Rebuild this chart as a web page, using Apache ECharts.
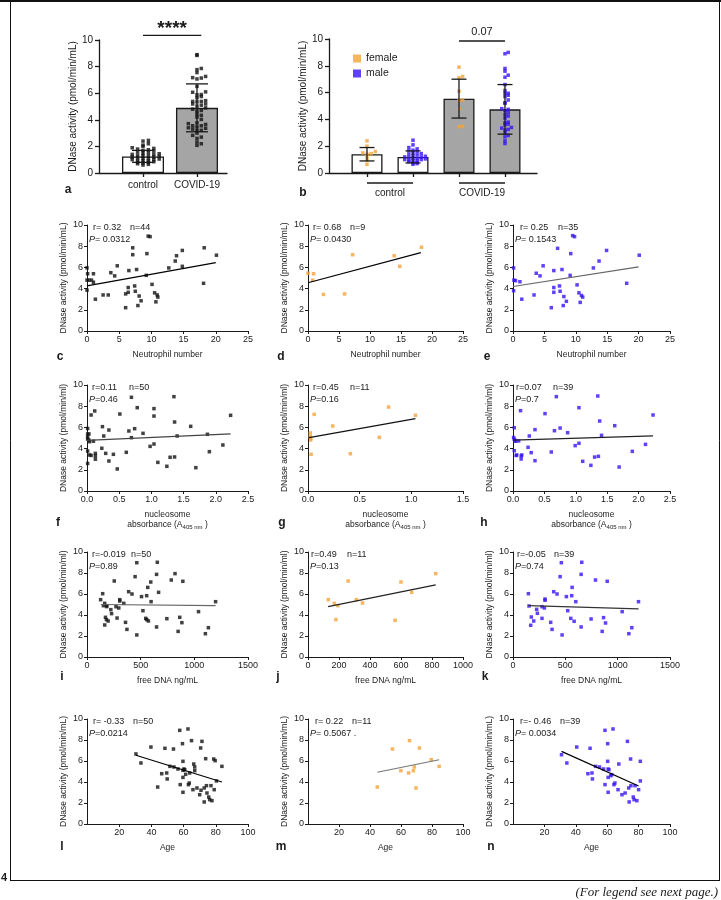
<!DOCTYPE html>
<html><head><meta charset="utf-8">
<script src="https://cdn.jsdelivr.net/npm/echarts@6/dist/echarts.min.js"></script>
<style>html,body{margin:0;padding:0;background:#fff}#c{width:721px;height:900px}</style>
</head><body><div id="c"></div><script>
// ---------------- DATA ----------------
// panel a
const groupsA = ['control', 'COVID-19'];
const barMeanA = [1.25, 4.9];
const barSdA = [0.45, 1.8];
const controlDotsA = [2.45,2.4,2.2,2.1,2.0,1.9,1.85,1.8,1.75,1.7,1.65,1.6,1.55,1.5,1.45,1.4,1.4,1.35,1.3,1.3,1.25,1.2,1.2,1.15,1.1,1.1,1.05,1.0,1.0,0.95,0.9,0.9,0.85,0.8,0.8,0.75,0.7,0.65,0.6];
const covidDotsA = [7.17,7.55,5.9,5.38,5.38,4.9,4.8,4.65,4.7,3.77,3.4,3.36,2.6,3.55,3.3,3.0,6.07,5.19,4.03,3.55,5.75,2.83,3.46,2.08,7.26,3.65,5.66,8.84,5.03,5.88,7.86,5.44,4.21,7.07,7.77,4.43,2.7,2.33,3.18,8.9,3.21,6.51,5.19,6.1,2.2,5.35,3.71,4.34,7.14,5.1];
const sigLabelA = '****';
// panel b
const groupsB = ['control', 'COVID-19'];
const sexes = ['female', 'male'];
const barMeanB = [1.4, 1.2, 5.55, 4.75];
const barSdB = [0.5, 0.45, 1.45, 1.85];
const femaleCtrlB = [2.4,2.0,1.6,1.5,1.45,1.4,1.2,0.95,0.65];
const maleCtrlB = [2.45,2.1,1.9,1.8,1.7,1.65,1.6,1.5,1.45,1.4,1.35,1.3,1.25,1.2,1.2,1.15,1.1,1.1,1.05,1.0,1.0,0.95,0.9,0.9,0.85,0.8,0.75,0.7,0.65];
const femaleCovidB = [5.45,5.4,4.8,3.45,3.5,7.2,7.1,6.1,7.9];
const maleCovidB = [5.95,4.8,4.75,4.65,3.8,3.0,3.4,5.45,5.2,6.15,2.2,3.65,4.1,5.7,7.8,4.25,3.75,5.8,2.4,3.25,2.8,5.25,7.3,9.0,8.9,4.35,3.6,2.7,3.35,3.2,5.95,6.6,7.6,4.5,7.15];
const sigLabelB = '0.07';

// scatter panels [x, DNase activity]
const neutroAll = [[0,5.96],[0.1,5.4],[0,4.8],[0.3,4.8],[0.7,4.8],[1,5.4],[1,4.6],[0,3.85],[1.3,3.0],[2.5,3.4],[3.3,3.4],[3.7,5.5],[4.3,5.2],[4.7,6.15],[6,2.2],[6,3.5],[6.4,4.1],[6.4,3.65],[6.5,5.7],[7.1,7.85],[7.1,7.2],[7.4,4.25],[7.5,3.75],[7.7,5.8],[7.9,2.4],[8.1,3.3],[8.4,2.85],[9.2,5.25],[9.3,7.3],[9.5,8.95],[9.8,8.9],[10.1,4.4],[10.5,3.6],[10.7,2.75],[10.9,3.4],[11,3.2],[12.7,5.95],[13.7,6.6],[13.9,7.1],[14.8,6.1],[14.8,7.6],[18.1,4.5],[18.2,7.85],[20.1,7.15]];
const neutroFemale = [[0,5.45],[0.9,5.4],[0.75,4.8],[2.5,3.45],[5.9,3.5],[7.2,7.2],[13.9,7.1],[14.8,6.1],[18.3,7.9]];
const neutroMale = [[0.1,5.95],[0.15,4.8],[0.4,4.75],[1.1,4.65],[0.1,3.8],[1.4,3.0],[3.35,3.4],[3.7,5.45],[4.3,5.2],[4.8,6.15],[6.1,2.2],[6.5,3.65],[6.5,4.1],[6.5,5.7],[7.1,7.8],[7.4,4.25],[7.5,3.75],[7.8,5.8],[8.0,2.4],[8.1,3.25],[8.5,2.8],[9.1,5.25],[9.2,7.3],[9.5,9.0],[9.8,8.9],[10.2,4.35],[10.5,3.6],[10.7,2.7],[10.9,3.35],[11.1,3.2],[12.8,5.95],[13.7,6.6],[14.9,7.6],[18.1,4.5],[20.1,7.15]];
const nucAll = [[0.064,7.17],[0.12,7.55],[0.01,5.9],[0.01,5.38],[0.03,5.38],[0.01,4.9],[0.03,4.8],[0.04,4.65],[0.1,4.7],[0.01,3.77],[0.04,3.4],[0.064,3.36],[0.01,2.6],[0.13,3.55],[0.13,3.3],[0.13,3.0],[0.24,6.07],[0.26,5.19],[0.23,4.03],[0.29,3.55],[0.34,5.75],[0.34,2.83],[0.41,3.46],[0.47,2.08],[0.51,7.26],[0.61,3.65],[0.65,5.66],[0.69,8.84],[0.69,5.03],[0.74,5.88],[0.78,7.86],[0.87,5.44],[0.98,4.21],[1.04,7.07],[1.04,7.77],[1.04,4.43],[1.1,2.7],[1.24,2.33],[1.29,3.18],[1.35,8.9],[1.36,3.21],[1.36,6.51],[1.4,5.19],[1.61,6.1],[1.69,2.2],[1.87,5.35],[1.9,3.71],[2.11,4.34],[2.23,7.14],[0.01,5.1]];
const nucFemale = [[0.022,5.47],[0.022,5.13],[0.026,4.97],[0.026,4.81],[0.03,3.46],[0.06,7.23],[0.24,6.13],[0.41,3.52],[0.69,5.06],[0.78,7.92],[1.04,7.14]];
const nucMale = [[0.12,7.58],[0.02,5.97],[0.02,4.87],[0.04,4.69],[0.09,4.72],[0.02,3.8],[0.06,3.4],[0.14,3.4],[0.13,3.02],[0.26,5.19],[0.24,4.12],[0.29,3.62],[0.35,5.79],[0.35,2.86],[0.51,7.3],[0.61,3.68],[0.66,5.69],[0.69,8.9],[0.75,5.94],[0.87,5.5],[0.99,4.28],[1.05,7.86],[1.05,4.5],[1.11,2.8],[1.24,2.42],[1.3,3.2],[1.35,8.96],[1.36,3.27],[1.38,6.6],[1.41,5.25],[1.62,6.16],[1.69,2.26],[1.9,3.74],[2.11,4.4],[2.23,7.17],[0.03,4.78],[0.01,5.05],[0.05,3.35],[0.13,3.3]];
const dnaAll = [[127,5.46],[146,6.03],[153,4.89],[165,5.11],[184,4.89],[172,3.78],[165,3.05],[181,3.56],[197,3.43],[222,4.51],[229,4.13],[254,7.24],[280,3.71],[270,4.79],[296,4.67],[305,5.46],[305,5.33],[343,5.11],[359,3.3],[372,2.63],[388,6.22],[419,6.0],[448,7.65],[464,2.1],[464,8.98],[508,5.75],[521,4.41],[547,3.68],[556,5.84],[556,3.56],[566,6.63],[572,3.43],[594,7.14],[597,5.27],[648,2.86],[648,7.87],[655,9.02],[667,6.16],[744,3.65],[785,7.33],[820,7.94],[849,2.44],[864,3.78],[884,3.27],[893,7.21],[1039,4.32],[1103,2.22],[1131,2.79],[1198,5.27],[183,4.8]];
const dnaFemale = [[131,5.46],[170,5.11],[193,4.89],[180,3.56],[259,7.24],[312,5.46],[352,5.14],[562,3.49],[600,7.14],[669,6.16],[824,7.94]];
const dnaMale = [[147,6.03],[153,4.86],[175,3.81],[169,3.02],[198,3.43],[226,4.54],[233,4.16],[277,3.68],[277,4.79],[306,5.52],[306,5.4],[300,4.67],[360,3.3],[373,2.63],[389,6.22],[421,6.0],[450,7.65],[462,8.98],[469,2.1],[510,5.75],[523,4.41],[552,3.68],[561,5.84],[565,6.63],[584,3.4],[600,5.27],[651,7.87],[657,9.02],[651,2.86],[746,3.62],[788,7.33],[852,2.44],[865,3.75],[884,3.24],[900,7.21],[1043,4.32],[1107,2.22],[1135,2.79],[1199,5.27]];
const ageAll = [[30.4,6.67],[33.5,5.81],[39.7,7.33],[43.9,3.52],[46.4,4.79],[48.4,7.21],[49.5,4.86],[49.8,4.29],[51.5,5.49],[53.7,7.14],[54,5.43],[56.5,5.24],[57.6,8.92],[57.9,3.75],[59.3,7.65],[59.6,5.97],[59.6,5.11],[60.2,5.24],[60.7,5.17],[59.6,3.02],[59.6,4.44],[61.3,4.73],[62.7,9.05],[63,3.75],[63.5,3.9],[63.8,4.86],[64.9,7.94],[65.8,3.27],[66.3,5.71],[66.9,5.43],[66.9,5.08],[68.3,3.43],[70,2.79],[70.6,7.24],[71.4,7.87],[70.8,3.21],[72.8,2.1],[72.8,3.43],[73.7,6.22],[74.2,3.65],[75.6,2.57],[76.2,2.32],[77,3.65],[77.6,2.22],[78.7,6.19],[79.6,6.03],[79,3.27],[80.4,4.1],[83.8,5.49],[74.5,2.95]];
const ageFemale = [[44.7,3.52],[54.5,7.14],[59.9,5.08],[64.9,4.86],[65.5,7.94],[68,5.08],[68.6,5.43],[69.7,3.43],[71.9,7.24],[79.5,6.13],[84.6,5.49]];
const ageMale = [[30.9,6.6],[34.3,5.81],[40.6,7.33],[47.7,4.79],[49.1,7.21],[50.3,4.86],[50.6,4.29],[52.6,5.49],[55.1,5.43],[57.7,5.24],[58.6,8.92],[58.6,3.75],[60.3,7.65],[60.3,5.97],[60.6,5.24],[61.1,5.17],[60.6,3.02],[60.6,4.44],[62.3,4.6],[62.9,4.7],[63.7,9.05],[64.3,3.75],[64.9,3.9],[66.9,3.27],[67.4,5.71],[69.4,2.79],[71.4,2.95],[72.9,7.87],[73.7,3.43],[74,2.1],[74.9,6.19],[75.1,3.65],[76.6,2.57],[77.1,2.32],[77.7,3.65],[78.9,2.22],[80,3.27],[81.1,5.97],[81.1,4.1]];

// regression lines (end points)
const lineC = [[0,4.25],[20,6.45]];
const lineD = [[0,4.55],[18.2,7.4]];
const lineE = [[0,4.2],[20,6.05]];
const lineF = [[0,4.78],[2.23,5.38]];
const lineG = [[0.01,5.03],[1.04,6.82]];
const lineH = [[0,4.8],[2.23,5.2]];
const lineI = [[130,5.0],[1198,4.9]];
const lineJ = [[130,4.8],[824,6.87]];
const lineK = [[147,4.9],[1200,4.58]];
const lineL = [[30.4,6.55],[83.8,4.0]];
const lineM = [[44.7,4.93],[84.6,6.12]];
const lineN = [[30.9,6.92],[80,3.62]];

// stats texts
const statR = ['r= 0.32','r= 0.68','r= 0.25','r=0.11','r=0.45','r=0.07','r=-0.019','r=0.49','r=-0.05','r= -0.33','r= 0.22','r=- 0.46'];
const statN = ['n=44','n=9','n=35','n=50','n=11','n=39','n=50','n=11','n=39','n=50','n=11','n=39'];
const statP = ['= 0.0312','= 0.0430','= 0.1543','=0.46','=0.16','=0.7','=0.89','=0.13','=0.74','=0.0214','= 0.5067 .','= 0.0034'];
const panelLetters = ['a','b','c','d','e','f','g','h','i','j','k','l','m','n'];

// ---------------- STYLE / LAYOUT ----------------
const FONT = '"Liberation Sans", Arial, Helvetica, sans-serif';
const INK = '#1a1a1a';
const ORANGE = '#F2A33A';
const BLUE = '#3414F2';
const GRAYBAR = '#A5A5A5';
const Y_ML = 'DNase activity (pmol/min/mL)';
const Y_ml = 'DNase activity (pmol/min/ml)';
const cols = [[87,161],[308,155],[513,157]];
const rows = [[225,106],[385,106],[552,105],[719,105]];

const grid = [], xAxis = [], yAxis = [], series = [], title = [];

function addText(text, left, top, size) {
  title.push({text, left, top, padding: 0,
    textStyle: {fontSize: size, fontWeight: 'normal', color: INK, fontFamily: FONT,
      rich: {i: {fontStyle: 'italic', fontSize: size, color: INK, fontFamily: FONT}}}});
}

function swarm(vals, center, binH, dx) {
  const sorted = vals.slice().sort((a, b) => a - b);
  const bins = {};
  return sorted.map(v => {
    const b = Math.round(v / binH);
    const k = bins[b] = (bins[b] === undefined ? 0 : bins[b] + 1);
    const off = k === 0 ? 0 : (k % 2 ? 1 : -1) * Math.ceil(k / 2) * dx;
    return [center + off, v];
  });
}

function errSeries(gi, xs, means, sds, cap) {
  return {type: 'custom', xAxisIndex: gi, yAxisIndex: gi, z: 6, silent: true, clip: false,
    data: xs.map((x, i) => [x, means[i], sds[i]]), encode: {x: 0, y: 1},
    renderItem: (params, api) => {
      const x = api.value(0), m = api.value(1), s = api.value(2);
      const t = api.coord([x, m + s]), b = api.coord([x, m - s]);
      const st = {stroke: INK, lineWidth: 1.3};
      return {type: 'group', children: [
        {type: 'line', shape: {x1: t[0], y1: t[1], x2: b[0], y2: b[1]}, style: st},
        {type: 'line', shape: {x1: t[0] - cap / 2, y1: t[1], x2: t[0] + cap / 2, y2: t[1]}, style: st},
        {type: 'line', shape: {x1: b[0] - cap / 2, y1: b[1], x2: b[0] + cap / 2, y2: b[1]}, style: st}]};
    }};
}

function sigSeries(gi, x1, x2, y, label, font, lift) {
  return {type: 'custom', xAxisIndex: gi, yAxisIndex: gi, z: 6, silent: true, clip: false,
    data: [[x1, x2, y]], encode: {x: [0, 1], y: 2},
    renderItem: (params, api) => {
      const p1 = api.coord([api.value(0), api.value(2)]);
      const p2 = api.coord([api.value(1), api.value(2)]);
      return {type: 'group', children: [
        {type: 'line', shape: {x1: p1[0], y1: p1[1], x2: p2[0], y2: p2[1]}, style: {stroke: INK, lineWidth: 1.3}},
        {type: 'text', x: (p1[0] + p2[0]) / 2, y: p1[1] - lift,
          style: {text: label, font: font, fill: INK, align: 'center', verticalAlign: 'middle'}}]};
    }};
}

function barAxes(gi, min, max, tickVals, labelVals, labelFmt, labelMargin, nameGap) {
  xAxis.push({type: 'value', gridIndex: gi, min, max,
    axisLine: {show: true, onZero: false, lineStyle: {color: INK, width: 1.3}},
    axisTick: {show: true, customValues: tickVals, length: 4, lineStyle: {color: INK, width: 1.3}},
    axisLabel: {customValues: labelVals, formatter: labelFmt, color: INK, fontSize: 10, fontFamily: FONT, margin: labelMargin},
    splitLine: {show: false}});
  yAxis.push({type: 'value', gridIndex: gi, min: 0, max: 10, interval: 2,
    axisLine: {show: true, onZero: false, lineStyle: {color: INK, width: 1.3}},
    axisTick: {show: true, length: 4, lineStyle: {color: INK, width: 1.3}},
    axisLabel: {color: INK, fontSize: 10, fontFamily: FONT, margin: 6},
    splitLine: {show: false},
    name: Y_ML, nameLocation: 'middle', nameGap: nameGap,
    nameTextStyle: {color: INK, fontSize: 10, fontFamily: FONT}});
}

// ---- panel a ----
grid.push({left: 99, top: 40, width: 128, height: 133, containLabel: false, outerBoundsMode: 'none'});
barAxes(0, -0.815, 1.556, [0, 1], [0, 1], v => groupsA[Math.round(v)], 7, 16);
series.push({type: 'bar', xAxisIndex: 0, yAxisIndex: 0, barWidth: 42, z: 2, silent: true,
  itemStyle: {borderColor: INK, borderWidth: 1.3},
  data: groupsA.map((g, i) => ({value: [i, barMeanA[i]], itemStyle: {color: i === 0 ? '#fff' : GRAYBAR}}))});
series.push({type: 'scatter', xAxisIndex: 0, yAxisIndex: 0, symbol: 'rect', symbolSize: 3.5, z: 4, silent: true,
  itemStyle: {color: '#111'},
  data: swarm(controlDotsA, 0, 0.2, 0.1).concat(swarm(covidDotsA, 1, 0.3, 0.08))});
series.push(errSeries(0, [0, 1], barMeanA, barSdA, 22));
series.push(sigSeries(0, 0, 1.08, 10.35, sigLabelA, 'bold 19px ' + FONT, 7));

// ---- panel b ----
grid.push({left: 329, top: 39, width: 208, height: 134, containLabel: false, outerBoundsMode: 'none'});
barAxes(1, -0.826, 3.696, [0, 1, 2, 3], [0.5, 2.5], v => groupsB[v < 1.5 ? 0 : 1], 15, 18);
series.push({type: 'bar', xAxisIndex: 1, yAxisIndex: 1, barWidth: 31, z: 2, silent: true,
  itemStyle: {borderColor: INK, borderWidth: 1.3},
  data: barMeanB.map((m, i) => ({value: [i, m], itemStyle: {color: i < 2 ? '#fff' : GRAYBAR}}))});
series.push({name: sexes[0], type: 'scatter', xAxisIndex: 1, yAxisIndex: 1, symbol: 'rect', symbolSize: 3.5, z: 4, silent: true,
  itemStyle: {color: ORANGE},
  data: swarm(femaleCtrlB, 0, 0.25, 0.09).concat(swarm(femaleCovidB, 2, 0.3, 0.08))});
series.push({name: sexes[1], type: 'scatter', xAxisIndex: 1, yAxisIndex: 1, symbol: 'rect', symbolSize: 3.5, z: 4, silent: true,
  itemStyle: {color: BLUE},
  data: swarm(maleCtrlB, 1, 0.2, 0.09).concat(swarm(maleCovidB, 3, 0.3, 0.07))});
series.push(errSeries(1, [0, 1, 2, 3], barMeanB, barSdB, 15));
series.push(sigSeries(1, 2, 3, 9.85, sigLabelB, '11px ' + FONT, 9));
// group underline bars
series.push({type: 'custom', xAxisIndex: 1, yAxisIndex: 1, z: 6, silent: true, clip: false,
  data: [[0, 1, 0], [2, 3, 0]], encode: {x: [0, 1], y: 2},
  renderItem: (params, api) => {
    const p1 = api.coord([api.value(0), 0]), p2 = api.coord([api.value(1), 0]);
    return {type: 'line', shape: {x1: p1[0], y1: p1[1] + 10, x2: p2[0], y2: p2[1] + 10}, style: {stroke: INK, lineWidth: 1.3}};
  }});

// ---- scatter panels ----
const nucName = 'nucleosome\nabsorbance (A{sub|405 nm} )';
const plain = v => String(v);
const oneDec = v => v.toFixed(1);
const panels = [
  {pts: neutroAll, line: lineC, color: '#111', lc: '#000', xr: [0, 25, 5], xName: 'Neutrophil number', yName: Y_ML, rOff: 6, nOff: 43},
  {pts: neutroFemale, line: lineD, color: ORANGE, lc: '#000', xr: [0, 25, 5], xName: 'Neutrophil number', yName: Y_ML, rOff: 5, nOff: 42},
  {pts: neutroMale, line: lineE, color: BLUE, lc: '#666', xr: [0, 25, 5], xName: 'Neutrophil number', yName: Y_ML, rOff: 7, nOff: 45},
  {pts: nucAll, line: lineF, color: '#111', lc: '#444', xr: [0, 2.5, 0.5], xName: nucName, yName: Y_ml, rOff: 5, nOff: 42, fmt: oneDec},
  {pts: nucFemale, line: lineG, color: ORANGE, lc: '#111', xr: [0, 1.5, 0.5], xName: nucName, yName: Y_ml, rOff: 5, nOff: 42, fmt: oneDec},
  {pts: nucMale, line: lineH, color: BLUE, lc: '#222', xr: [0, 2.5, 0.5], xName: nucName, yName: Y_ml, rOff: 3, nOff: 40, fmt: oneDec},
  {pts: dnaAll, line: lineI, color: '#111', lc: '#666', xr: [0, 1500, 500], xName: 'free DNA ng/mL', yName: Y_ml, rOff: 5, nOff: 44, fmt: plain},
  {pts: dnaFemale, line: lineJ, color: ORANGE, lc: '#222', xr: [0, 1000, 200], xName: 'free DNA ng/mL', yName: Y_ml, rOff: 3, nOff: 39, fmt: plain},
  {pts: dnaMale, line: lineK, color: BLUE, lc: '#333', xr: [0, 1500, 500], xName: 'free DNA ng/mL', yName: Y_ml, rOff: 4, nOff: 41, fmt: plain},
  {pts: ageAll, line: lineL, color: '#111', lc: '#000', xr: [0, 100, 20], xName: 'Age', yName: Y_ML, rOff: 6, nOff: 46, noMin: true, fmt: plain},
  {pts: ageFemale, line: lineM, color: ORANGE, lc: '#777', xr: [0, 100, 20], xName: 'Age', yName: Y_ML, rOff: 7, nOff: 44, noMin: true, fmt: plain},
  {pts: ageMale, line: lineN, color: BLUE, lc: '#000', xr: [0, 100, 20], xName: 'Age', yName: Y_ML, rOff: 7, nOff: 47, noMin: true, fmt: plain}
];

panels.forEach((p, k) => {
  const gi = grid.length;
  const [left, width] = cols[k % 3];
  const [top, height] = rows[Math.floor(k / 3)];
  grid.push({left, top, width, height, containLabel: false, outerBoundsMode: 'none'});
  xAxis.push({type: 'value', gridIndex: gi, min: p.xr[0], max: p.xr[1], interval: p.xr[2],
    axisLine: {show: true, onZero: false, lineStyle: {color: INK, width: 1}},
    axisTick: {show: true, length: 3, lineStyle: {color: INK, width: 1}},
    axisLabel: {color: INK, fontSize: 9, fontFamily: FONT, margin: 4, showMinLabel: !p.noMin, formatter: p.fmt},
    splitLine: {show: false},
    name: p.xName, nameLocation: 'middle', nameGap: 19,
    nameTextStyle: {color: INK, fontSize: 8.5, fontFamily: FONT, lineHeight: 10,
      rich: {sub: {fontSize: 6, fontFamily: FONT, color: INK, padding: [4, 0, 0, 0]}}}});
  yAxis.push({type: 'value', gridIndex: gi, min: 0, max: 10, interval: 2,
    axisLine: {show: true, onZero: false, lineStyle: {color: INK, width: 1}},
    axisTick: {show: true, length: 3, lineStyle: {color: INK, width: 1}},
    axisLabel: {color: INK, fontSize: 9, fontFamily: FONT, margin: 4},
    splitLine: {show: false},
    name: p.yName, nameLocation: 'middle', nameGap: 19,
    nameTextStyle: {color: INK, fontSize: 8.5, fontFamily: FONT}});
  series.push({type: 'scatter', xAxisIndex: gi, yAxisIndex: gi, data: p.pts, symbol: 'rect', symbolSize: 3.5,
    itemStyle: {color: p.color}, z: 3, silent: true});
  series.push({type: 'line', xAxisIndex: gi, yAxisIndex: gi, data: p.line, showSymbol: false, symbol: 'none',
    lineStyle: {color: p.lc, width: 1.2}, z: 4, silent: true});
  addText(statR[k], left + p.rOff, top - 2, 9);
  addText(statN[k], left + p.nOff, top - 2, 9);
  addText('{i|P}' + statP[k], left + 2, top + 10, 9);
});

// panel letters and page decorations
const letterPos = [[68,190],[303,193],[60,357],[281,357],[487,357],[58,523],[282,523],[484,523],[62,677],[278,677],[485,677],[62,847],[281,847],[491,847]];
const graphic = letterPos.map((pos, i) => ({type: 'text', x: pos[0], y: pos[1], z: 10,
  style: {text: panelLetters[i], font: 'bold 12px ' + FONT, fill: INK, align: 'center', verticalAlign: 'middle'}}));
graphic.push(
  {type: 'line', shape: {x1: 0, y1: 1, x2: 721, y2: 1}, style: {stroke: '#111', lineWidth: 2}},
  {type: 'line', shape: {x1: 10.5, y1: 0, x2: 10.5, y2: 880.5}, style: {stroke: '#111', lineWidth: 1}},
  {type: 'line', shape: {x1: 10, y1: 880.5, x2: 720, y2: 880.5}, style: {stroke: '#111', lineWidth: 1}},
  {type: 'line', shape: {x1: 719.5, y1: 0, x2: 719.5, y2: 880.5}, style: {stroke: '#111', lineWidth: 1}},
  {type: 'text', x: 4, y: 878, style: {text: '4', font: 'bold 11px ' + FONT, fill: INK, align: 'center', verticalAlign: 'middle'}},
  {type: 'text', x: 718, y: 893, style: {text: '(For legend see next page.)', font: 'italic 13px "Liberation Serif", "DejaVu Serif", serif', fill: INK, align: 'right', verticalAlign: 'middle'}}
);

const chart = echarts.init(document.getElementById('c'), null, {renderer: 'canvas', width: 721, height: 900});
chart.setOption({
  animation: false,
  backgroundColor: '#fff',
  textStyle: {fontFamily: FONT},
  title, grid, xAxis, yAxis, series, graphic,
  legend: {data: sexes, orient: 'vertical', left: 353, top: 53, itemWidth: 8, itemHeight: 8, itemGap: 4,
    icon: 'rect', selectedMode: false, padding: 0,
    textStyle: {fontSize: 10.5, color: INK, fontFamily: FONT}}
});
</script></body></html>
